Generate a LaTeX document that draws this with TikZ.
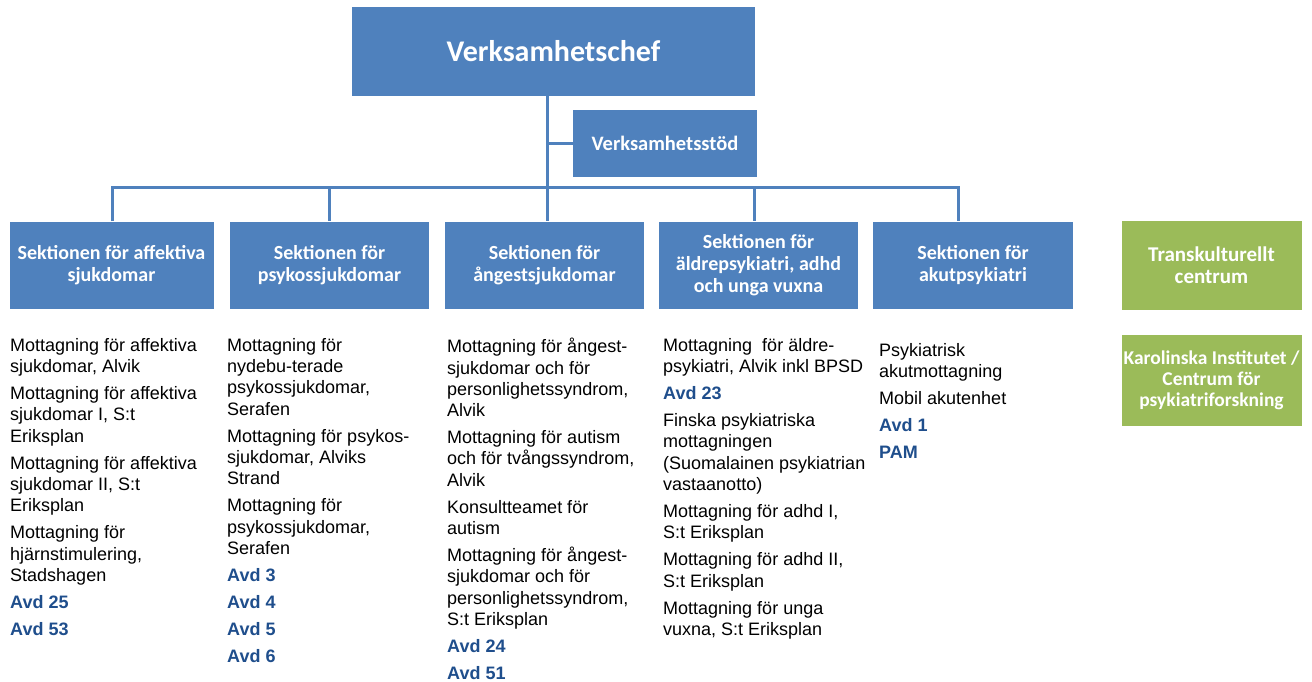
\documentclass[tikz,border=0pt]{standalone}
\usepackage{fontspec}
\setmainfont{Liberation Sans}
\newfontfamily\cali{Carlito}
\definecolor{orgblue}{HTML}{4F81BD}
\definecolor{orggreen}{HTML}{9BBB59}
\definecolor{avdblue}{HTML}{1F4E8C}
\newcommand{\avd}[1]{{\bfseries\color{avdblue}#1}}

\begin{document}
\begin{tikzpicture}[x=1pt,y=-1pt]
	\tikzset{
		unit/.style={fill=orgblue, text=white, inner sep=0pt, align=center,
			font=\cali\bfseries\fontsize{20}{21.7}\selectfont},
		extra/.style={unit, fill=orggreen},
		list/.style={anchor=north west, inner sep=0pt, align=left,
			font=\fontsize{18}{21.3}\selectfont},
		link/.style={draw=orgblue, line width=3pt}
	}
	\useasboundingbox (0,0) rectangle (1312,681);

	% top of the chart
	\node[unit, minimum width=403pt, minimum height=89pt,
		font=\cali\bfseries\fontsize{30}{34}\selectfont] (chef) at (553.5,51.5) {Verksamhetschef};
	\node[unit, minimum width=184pt, minimum height=67pt,
		font=\cali\bfseries\fontsize{20.5}{23}\selectfont] (stod) at (665,143.5) {Verksamhetsstöd};

	% sections
	\node[unit, minimum width=204pt, minimum height=87pt] (s1) at (111.5,265) {Sektionen för affektiva\\sjukdomar};
	\node[unit, minimum width=199pt, minimum height=87pt] (s2) at (329.5,265) {Sektionen för\\psykossjukdomar};
	\node[unit, minimum width=199pt, minimum height=87pt] (s3) at (544.5,265) {Sektionen för\\ångestsjukdomar};
	\node[unit, minimum width=199pt, minimum height=87pt] (s4) at (758.5,265) {Sektionen för\\äldrepsykiatri, adhd\\och unga vuxna};
	\node[unit, minimum width=200pt, minimum height=87pt] (s5) at (973,265) {Sektionen för\\akutpsykiatri};

	\node[extra, minimum width=180pt, minimum height=89pt,
		font=\cali\bfseries\fontsize{21}{22}\selectfont] (tk) at (1211.5,265.5) {Transkulturellt\\centrum};
	\node[extra, minimum width=180pt, minimum height=91pt,
		font=\cali\bfseries\fontsize{19.5}{20.8}\selectfont] (ki) at (1211.5,380.5) {Karolinska Institutet /\\Centrum för\\psykiatriforskning};

	% lines
	\coordinate (trunk) at (547,187);
	\coordinate (d1) at (112,187);
	\coordinate (d2) at (329,187);
	\coordinate (d4) at (754,187);
	\coordinate (d5) at (958,187);
	\draw[link] (chef.south -| trunk) -- (trunk) -- (trunk |- s3.north);
	\draw[link] (trunk |- stod.west) -- (stod.west);
	\draw[link] (d1 |- s1.north) -- (d1) -- (d5) -- (d5 |- s5.north);
	\draw[link] (d2) -- (d2 |- s2.north);
	\draw[link] (d4) -- (d4 |- s4.north);

	% units under each section
	\node[list] (l1) at (10,338) {Mottagning för affektiva\\sjukdomar, Alvik\\[5.7pt]
		Mottagning för affektiva\\sjukdomar I, S:t\\Eriksplan\\[5.7pt]
		Mottagning för affektiva\\sjukdomar II, S:t\\Eriksplan\\[5.7pt]
		Mottagning för\\hjärnstimulering,\\Stadshagen\\[5.7pt]
		\avd{Avd 25}\\[5.7pt]\avd{Avd 53}};
	\node[list] (l2) at (227,338) {Mottagning för\\nydebu-terade\\psykossjukdomar,\\Serafen\\[5.7pt]
		Mottagning för psykos-\\sjukdomar, Alviks\\Strand\\[5.7pt]
		Mottagning för\\psykossjukdomar,\\Serafen\\[5.7pt]
		\avd{Avd 3}\\[5.7pt]\avd{Avd 4}\\[5.7pt]\avd{Avd 5}\\[5.7pt]\avd{Avd 6}};
	\node[list] (l3) at (447,338) {Mottagning för ångest-\\sjukdomar och för\\personlighetssyndrom,\\Alvik\\[5.7pt]
		Mottagning för autism\\och för tvångssyndrom,\\Alvik\\[5.7pt]
		Konsultteamet för\\autism\\[5.7pt]
		Mottagning för ångest-\\sjukdomar och för\\personlighetssyndrom,\\S:t Eriksplan\\[5.7pt]
		\avd{Avd 24}\\[5.7pt]\avd{Avd 51}};
	\node[list] (l4) at (663,338) {Mottagning\ \ för äldre-\\psykiatri, Alvik inkl BPSD\\[5.7pt]
		\avd{Avd 23}\\[5.7pt]
		Finska psykiatriska\\mottagningen\\(Suomalainen psykiatrian\\vastaanotto)\\[5.7pt]
		Mottagning för adhd I,\\S:t Eriksplan\\[5.7pt]
		Mottagning för adhd II,\\S:t Eriksplan\\[5.7pt]
		Mottagning för unga\\vuxna, S:t Eriksplan};
	\node[list] (l5) at (879,343) {Psykiatrisk\\akutmottagning\\[5.7pt]
		Mobil akutenhet\\[5.7pt]
		\avd{Avd 1}\\[5.7pt]\avd{PAM}};
\end{tikzpicture}
\end{document}
